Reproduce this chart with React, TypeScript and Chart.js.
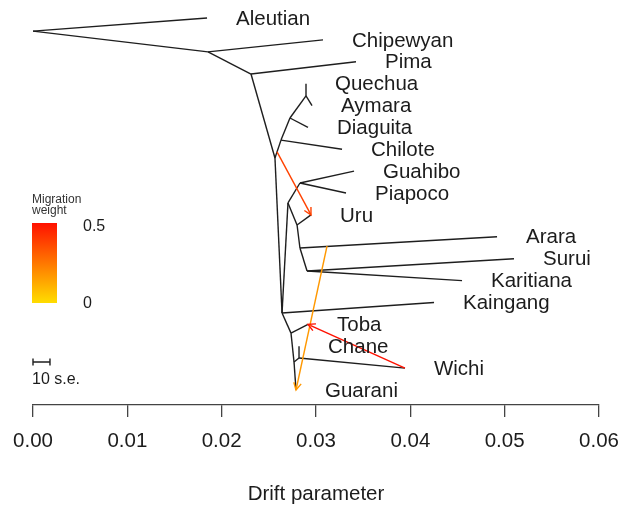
import React, { useEffect, useRef } from "react";
import { Chart, registerables } from "chart.js";

Chart.register(...registerables);

// ---- Data (drift parameter on x, leaf rank on y) ----
const leafNames = [
  "Aleutian", "Chipewyan", "Pima", "Quechua", "Aymara", "Diaguita", "Chilote",
  "Guahibo", "Piapoco", "Uru", "Arara", "Surui", "Karitiana", "Kaingang",
  "Toba", "Chane", "Wichi", "Guarani",
];
const leafDrift = [
  0.01845, 0.03074, 0.03424, 0.02894, 0.02958, 0.02915, 0.03276,
  0.03403, 0.03318, 0.02947, 0.04919, 0.05099, 0.04548, 0.04251,
  0.02915, 0.0282, 0.03943, 0.02788,
];
const leafRank = leafNames.map((_, i) => i);

const nodeNames = ["root", "A", "B", "C", "D", "E", "F", "H", "I", "J", "K", "M", "L", "P", "R", "Q"];
const nodeDrift = [0, 0.01855, 0.02311, 0.02565, 0.02629, 0.02724, 0.02894, 0.0264, 0.02703, 0.0283, 0.02799, 0.0283, 0.02905, 0.02735, 0.02767, 0.0282];
const nodeRank = [0.6, 1.55, 2.56, 6.4, 5.58, 4.57, 3.56, 13.48, 8.45, 7.54, 9.46, 10.51, 11.56, 14.4, 15.72, 15.54];

const edgeFrom = ["root", "root", "A", "A", "B", "B", "C", "D", "D", "E", "E", "F", "F", "C", "I", "I", "J", "J", "I", "K", "K", "M", "M", "L", "L", "H", "H", "P", "P", "R", "R", "Q", "Q"];
const edgeTo = ["Aleutian", "A", "Chipewyan", "B", "Pima", "C", "D", "Chilote", "E", "Diaguita", "F", "Quechua", "Aymara", "H", "H", "J", "Guahibo", "Piapoco", "K", "Uru", "M", "Arara", "L", "Surui", "Karitiana", "Kaingang", "P", "Toba", "R", "Guarani", "Q", "Chane", "Wichi"];

const migFromDrift = [0.02587, 0.03117, 0.03943];
const migFromRank = [6.12, 10.42, 16];
const migTo = ["Uru", "Guarani", "Toba"];
const migWeight = [0.38, 0.17, 0.5];

const xTicks = [0, 0.01, 0.02, 0.03, 0.04, 0.05, 0.06];
const scaleBarDrift = 0.0018; // 10 s.e.
const scaleBarRank = 15.72;
const scaleBarLabelRank = 16.54;
const weightTicks = ["0.5", "0"];

// ---- Styles ----
const FONT = "'Liberation Sans', Arial, Helvetica, sans-serif";
const TEXT = "#1c1c1c";
const TREE = "#1e1e1e";

function weightColor(w: number) {
  const hue = 52 - 96 * Math.min(Math.max(w, 0), 0.5);
  return `hsl(${hue}, 100%, 50%)`;
}

function coordOf(name: string): { x: number; y: number } {
  const li = leafNames.indexOf(name);
  if (li >= 0) return { x: leafDrift[li], y: leafRank[li] };
  const ni = nodeNames.indexOf(name);
  return { x: nodeDrift[ni], y: nodeRank[ni] };
}

const overlay = {
  id: "treeOverlay",
  afterDatasetsDraw(chart: any) {
    const { ctx } = chart;
    const x = chart.scales.x;
    const y = chart.scales.y;
    ctx.save();

    // arrowheads on migration edges
    migTo.forEach((t, i) => {
      const to = coordOf(t);
      const x0 = x.getPixelForValue(migFromDrift[i]);
      const y0 = y.getPixelForValue(migFromRank[i]);
      const x1 = x.getPixelForValue(to.x);
      const y1 = y.getPixelForValue(to.y);
      const a = Math.atan2(y1 - y0, x1 - x0);
      const L = 8;
      const sp = (28 * Math.PI) / 180;
      ctx.strokeStyle = weightColor(migWeight[i]);
      ctx.lineWidth = 1.4;
      ctx.beginPath();
      ctx.moveTo(x1 - L * Math.cos(a - sp), y1 - L * Math.sin(a - sp));
      ctx.lineTo(x1, y1);
      ctx.lineTo(x1 - L * Math.cos(a + sp), y1 - L * Math.sin(a + sp));
      ctx.stroke();
    });

    // leaf labels
    ctx.fillStyle = TEXT;
    ctx.font = `20.5px ${FONT}`;
    ctx.textAlign = "left";
    ctx.textBaseline = "middle";
    leafNames.forEach((n, i) => {
      ctx.fillText(n, x.getPixelForValue(leafDrift[i]) + 29, y.getPixelForValue(leafRank[i]) + 1);
    });

    // scale bar
    const sx0 = x.getPixelForValue(0);
    const sx1 = x.getPixelForValue(scaleBarDrift);
    const sy = y.getPixelForValue(scaleBarRank);
    ctx.strokeStyle = TREE;
    ctx.lineWidth = 1.4;
    ctx.beginPath();
    ctx.moveTo(sx0, sy);
    ctx.lineTo(sx1, sy);
    ctx.moveTo(sx0, sy - 3.5);
    ctx.lineTo(sx0, sy + 3.5);
    ctx.moveTo(sx1, sy - 3.5);
    ctx.lineTo(sx1, sy + 3.5);
    ctx.stroke();
    ctx.font = `16px ${FONT}`;
    ctx.fillText("10 s.e.", sx0 - 1, y.getPixelForValue(scaleBarLabelRank));

    // migration weight legend
    const lx = 32, ly = 223, lw = 25, lh = 80;
    const g = ctx.createLinearGradient(0, ly, 0, ly + lh);
    g.addColorStop(0, weightColor(0.5));
    g.addColorStop(0.5, weightColor(0.25));
    g.addColorStop(1, weightColor(0));
    ctx.fillStyle = g;
    ctx.fillRect(lx, ly, lw, lh);
    ctx.fillStyle = "#333";
    ctx.font = `12px ${FONT}`;
    ctx.fillText("Migration", lx, 200);
    ctx.fillText("weight", lx, 211);
    ctx.fillStyle = TEXT;
    ctx.font = `16px ${FONT}`;
    ctx.fillText(weightTicks[0], 83, ly + 4);
    ctx.fillText(weightTicks[1], 83, ly + lh + 1);

    ctx.restore();
  },
};

export default function App() {
  const ref = useRef<HTMLCanvasElement | null>(null);

  useEffect(() => {
    if (!ref.current) return;
    const treeSets = edgeFrom.map((f, i) => ({
      data: [coordOf(f), coordOf(edgeTo[i])],
      showLine: true,
      borderColor: TREE,
      borderWidth: 1.4,
      pointRadius: 0,
      fill: false,
      order: 2,
    }));
    const migSets = migTo.map((t, i) => ({
      data: [{ x: migFromDrift[i], y: migFromRank[i] }, coordOf(t)],
      showLine: true,
      borderColor: weightColor(migWeight[i]),
      borderWidth: 1.4,
      pointRadius: 0,
      fill: false,
      order: 1,
    }));
    const chart = new Chart(ref.current, {
      type: "scatter",
      data: { datasets: [...treeSets, ...migSets] as any },
      options: {
        animation: false,
        responsive: false,
        events: [],
        layout: { padding: { left: 33, right: 23, top: 5, bottom: 0 } },
        plugins: { legend: { display: false }, tooltip: { enabled: false } },
        scales: {
          x: {
            type: "linear",
            min: 0,
            max: 0.06,
            afterFit: (s: any) => {
              s.height = 107;
              s.paddingLeft = 0;
              s.paddingRight = 0;
            },
            afterBuildTicks: (s: any) => {
              s.ticks = xTicks.map((v) => ({ value: v }));
            },
            ticks: {
              callback: (v: any) => Number(v).toFixed(2),
              font: { family: FONT, size: 20.5 },
              color: TEXT,
              padding: 12,
              maxRotation: 0,
              autoSkip: false,
            },
            grid: { drawOnChartArea: false, drawTicks: true, tickLength: 12, color: "#444", lineWidth: 1.3 },
            border: { display: true, color: "#444", width: 1.3 },
            title: {
              display: true,
              text: "Drift parameter",
              font: { family: FONT, size: 20.5 },
              color: TEXT,
              padding: { top: 0, bottom: 5 },
            },
          },
          y: {
            type: "linear",
            display: false,
            reverse: true,
            min: -0.594,
            max: 17.686,
          },
        },
      },
      plugins: [overlay],
    });
    return () => chart.destroy();
  }, []);

  return (
    <div style={{ position: "fixed", left: 0, top: 0, width: 622, height: 512, background: "#fff" }}>
      <canvas ref={ref} width={622} height={512} style={{ display: "block" }} />
    </div>
  );
}
